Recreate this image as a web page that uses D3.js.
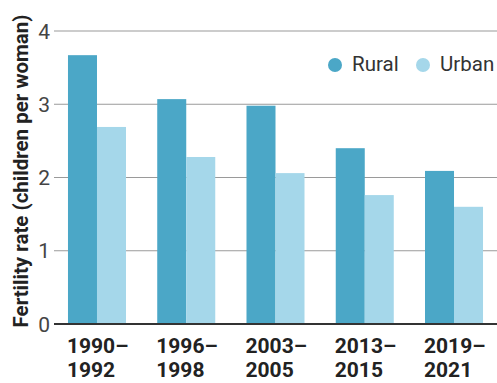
<!DOCTYPE html>
<html>
<head>
<meta charset="utf-8">
<script src="https://cdn.jsdelivr.net/npm/d3@7"></script>
<style>
  body { margin: 0; background: #fff; }
  text { font-family: Roboto, "Noto Sans", sans-serif; }
</style>
</head>
<body>
<div id="chart"></div>
<script>
var periods = ["1990–1992", "1996–1998", "2003–2005", "2013–2015", "2019–2021"];
var series = ["Rural", "Urban"];
var rural = [3.67, 3.07, 2.98, 2.40, 2.09];
var urban = [2.69, 2.28, 2.06, 1.76, 1.60];
var yTicks = [0, 1, 2, 3, 4];

var width = 497, height = 383;
var colors = { Rural: "#4ba7c7", Urban: "#a5d7ea" };

var svg = d3.select("#chart").append("svg")
    .attr("width", width)
    .attr("height", height);

var x = d3.scaleBand()
    .domain(periods)
    .range([57, 494])
    .paddingInner(0.35)
    .paddingOuter(0.123);

var xs = d3.scaleBand()
    .domain(series)
    .range([0, x.bandwidth()]);

var y = d3.scaleLinear()
    .domain([0, 4])
    .range([324, 31]);

// gridlines
svg.append("g")
    .selectAll("line")
    .data(yTicks.filter(function (d) { return d > 0; }))
    .enter().append("line")
    .attr("x1", 54)
    .attr("x2", width)
    .attr("y1", function (d) { return y(d); })
    .attr("y2", function (d) { return y(d); })
    .attr("stroke", "#9a9a9a")
    .attr("stroke-width", 1.2);

// y tick labels
svg.append("g")
    .selectAll("text")
    .data(yTicks)
    .enter().append("text")
    .attr("x", 50)
    .attr("y", function (d) { return y(d); })
    .attr("dy", "0.36em")
    .attr("text-anchor", "end")
    .attr("font-size", 21)
    .attr("fill", "#444")
    .text(function (d) { return d; });

// bars
var data = periods.map(function (p, i) {
    return { period: p, values: [{ key: "Rural", value: rural[i] }, { key: "Urban", value: urban[i] }] };
});

var groups = svg.append("g")
    .selectAll("g")
    .data(data)
    .enter().append("g")
    .attr("transform", function (d) { return "translate(" + x(d.period) + ",0)"; });

groups.selectAll("rect")
    .data(function (d) { return d.values; })
    .enter().append("rect")
    .attr("x", function (d) { return xs(d.key); })
    .attr("width", xs.bandwidth())
    .attr("y", function (d) { return y(d.value); })
    .attr("height", function (d) { return y(0) - y(d.value); })
    .attr("fill", function (d) { return colors[d.key]; });

// baseline
svg.append("line")
    .attr("x1", 54)
    .attr("x2", width)
    .attr("y1", y(0))
    .attr("y2", y(0))
    .attr("stroke", "#333")
    .attr("stroke-width", 2);

// x labels (two lines, left aligned to the group)
var xl = svg.append("g")
    .selectAll("text")
    .data(periods)
    .enter().append("text")
    .attr("text-anchor", "start")
    .attr("font-size", 21)
    .attr("font-weight", "bold")
    .attr("fill", "#222");
xl.append("tspan")
    .attr("x", function (d) { return x(d) - 1; })
    .attr("y", 353)
    .text(function (d) { return d.split("–")[0] + "–"; });
xl.append("tspan")
    .attr("x", function (d) { return x(d) - 1; })
    .attr("y", 377)
    .text(function (d) { return d.split("–")[1]; });

// y title
svg.append("text")
    .attr("transform", "translate(28,171) rotate(-90)")
    .attr("text-anchor", "middle")
    .attr("font-size", 20.5)
    .attr("font-weight", "bold")
    .attr("fill", "#222")
    .text("Fertility rate (children per woman)");

// legend
var legendX = [335, 423];
var legend = svg.append("g")
    .selectAll("g")
    .data(series)
    .enter().append("g")
    .attr("transform", function (d, i) { return "translate(" + legendX[i] + ",65)"; });
legend.append("circle")
    .attr("r", 7)
    .attr("fill", function (d) { return colors[d]; });
legend.append("text")
    .attr("x", 17)
    .attr("y", 6)
    .attr("font-size", 20.5)
    .attr("fill", "#333")
    .text(function (d) { return d; });
</script>
</body>
</html>
